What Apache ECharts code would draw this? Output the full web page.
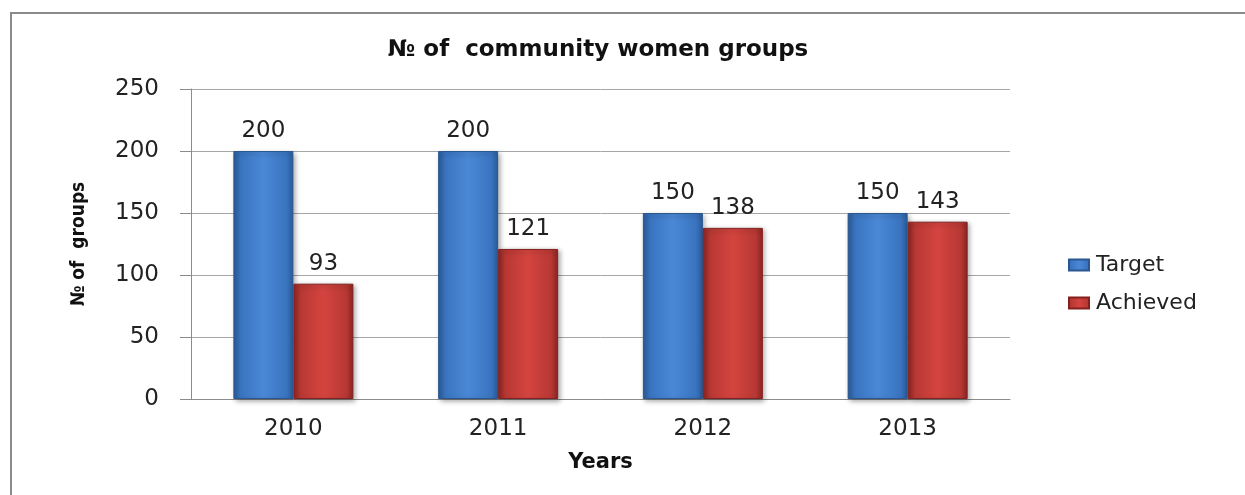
<!DOCTYPE html>
<html>
<head>
<meta charset="utf-8">
<script src="https://cdn.jsdelivr.net/npm/echarts@6/dist/echarts.min.js"></script>
<style>
  html, body { margin: 0; padding: 0; background: #fff; }
  #chart { width: 1245px; height: 495px; }
</style>
</head>
<body>
<div id="chart"></div>
<script>
// Community women groups: planned vs. achieved per year
const years = ['2010', '2011', '2012', '2013'];
const target = [200, 200, 150, 150];
const achieved = [93, 121, 138, 143];
const yTicks = [0, 50, 100, 150, 200, 250];

const numFont = 'DejaVu Sans';

function barFill(edge, mid, light) {
  return new echarts.graphic.LinearGradient(0, 0, 1, 0, [
    { offset: 0, color: edge },
    { offset: 0.12, color: mid },
    { offset: 0.5, color: light },
    { offset: 0.88, color: mid },
    { offset: 1, color: edge }
  ]);
}

const chart = echarts.init(document.getElementById('chart'));
chart.setOption({
  animation: false,
  backgroundColor: '#ffffff',
  graphic: [
    { type: 'line', shape: { x1: 11, y1: 13, x2: 1245, y2: 13 }, style: { stroke: '#8a8a8a', lineWidth: 2 } },
    { type: 'line', shape: { x1: 11, y1: 12, x2: 11, y2: 495 }, style: { stroke: '#8a8a8a', lineWidth: 2 } }
  ],
  title: {
    text: '№ of  community women groups',
    left: 593, top: 34, textAlign: 'center',
    textStyle: { fontFamily: 'DejaVu Sans', fontWeight: 'bold', fontSize: 23, color: '#111' }
  },
  legend: {
    orient: 'vertical',
    left: 1063, top: 249,
    itemWidth: 20, itemHeight: 11, itemGap: 16,
    icon: 'rect',
    textStyle: { fontFamily: 'DejaVu Sans', fontSize: 22, color: '#222', padding: [0, 0, 0, 2] },
    data: ['Target', 'Achieved']
  },
  grid: { left: 191, right: 235, top: 89, bottom: 96 },
  xAxis: {
    type: 'category',
    data: years,
    name: 'Years',
    nameLocation: 'middle',
    nameGap: 53,
    nameTextStyle: { fontFamily: 'DejaVu Sans', fontWeight: 'bold', fontSize: 21, color: '#111' },
    axisLine: { lineStyle: { color: '#8c8c8c', width: 1 } },
    axisTick: { show: false },
    axisLabel: { fontFamily: numFont, fontSize: 23, color: '#222', margin: 19 }
  },
  yAxis: {
    type: 'value',
    min: 0, max: 250, interval: 50,
    name: '№ of  groups',
    nameLocation: 'middle',
    nameGap: 102,
    nameRotate: 90,
    nameTextStyle: { fontFamily: 'DejaVu Sans Condensed', fontWeight: 'bold', fontSize: 19, color: '#111' },
    axisLine: { show: true, lineStyle: { color: '#8c8c8c', width: 1 } },
    axisTick: { show: true, inside: false, length: 11, lineStyle: { color: '#8c8c8c' } },
    splitLine: { lineStyle: { color: '#a6a6a6', width: 1 } },
    axisLabel: {
      fontFamily: numFont, fontSize: 23, color: '#222', margin: 32,
      formatter: v => (yTicks.includes(v) ? String(v) : '')
    }
  },
  series: [
    {
      name: 'Target',
      type: 'bar',
      data: target,
      barWidth: 60,
      barGap: '0%',
      itemStyle: {
        color: barFill('#2b5c9a', '#3a74c0', '#4a88d6'),
        borderColor: '#2a5790', borderWidth: 1,
        shadowColor: 'rgba(0,0,0,0.35)', shadowBlur: 5, shadowOffsetX: 2, shadowOffsetY: 2
      },
      label: { show: true, position: 'top', distance: 8, fontFamily: numFont, fontSize: 23, color: '#222' }
    },
    {
      name: 'Achieved',
      type: 'bar',
      data: achieved,
      barWidth: 60,
      itemStyle: {
        color: barFill('#8c2522', '#b83834', '#d4443f'),
        borderColor: '#82211f', borderWidth: 1,
        shadowColor: 'rgba(0,0,0,0.35)', shadowBlur: 5, shadowOffsetX: 2, shadowOffsetY: 2
      },
      label: { show: true, position: 'top', distance: 8, fontFamily: numFont, fontSize: 23, color: '#222' }
    }
  ],
  color: ['#3a74c0', '#c03b37']
});
</script>
</body>
</html>
